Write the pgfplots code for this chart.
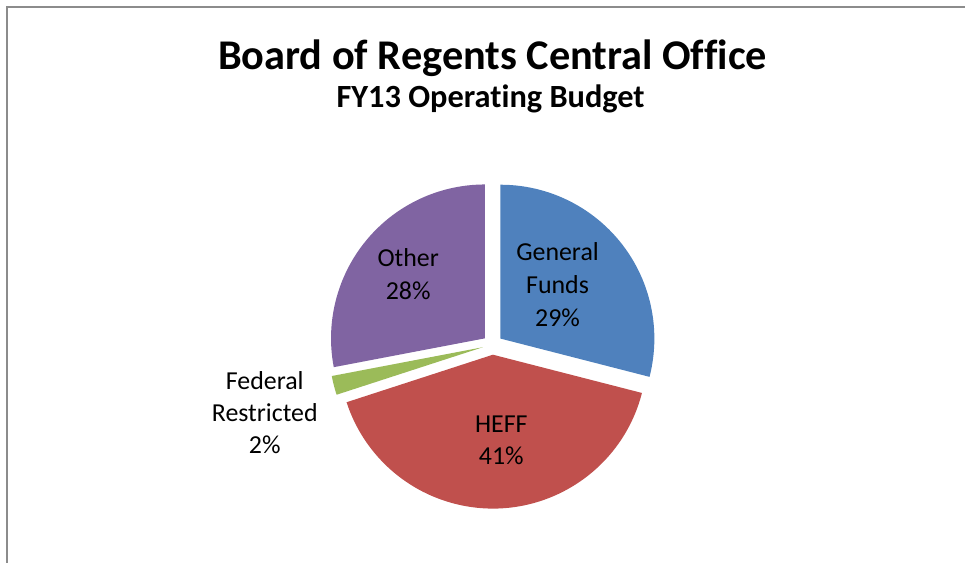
\documentclass[border=0pt]{standalone}
\usepackage{pgfplots}
\pgfplotsset{compat=1.18}
\usepackage{pgfplotstable}
\usepackage{fontspec}
\setmainfont[Ligatures=NoCommon]{Carlito}
\usetikzlibrary{calc}

\definecolor{gfblue}{HTML}{4F81BD}
\definecolor{heffred}{HTML}{C0504D}
\definecolor{fedgreen}{HTML}{9BBB59}
\definecolor{othpurple}{HTML}{8064A2}
\definecolor{bordergray}{HTML}{8C8C8C}

\pgfplotstableread{
name value
GeneralFunds 29
HEFF 41
FederalRestricted 2
Other 28
}\piedata

\pgfplotstablegetelem{0}{value}\of\piedata \pgfmathsetmacro\vA{\pgfplotsretval}%
\pgfplotstablegetelem{1}{value}\of\piedata \pgfmathsetmacro\vB{\pgfplotsretval}%
\pgfplotstablegetelem{2}{value}\of\piedata \pgfmathsetmacro\vC{\pgfplotsretval}%
\pgfplotstablegetelem{3}{value}\of\piedata \pgfmathsetmacro\vD{\pgfplotsretval}%
\pgfmathsetmacro\tot{\vA+\vB+\vC+\vD}%
\pgfmathsetmacro\aA{90}%
\pgfmathsetmacro\aB{\aA-360*\vA/\tot}%
\pgfmathsetmacro\aC{\aB-360*\vB/\tot}%
\pgfmathsetmacro\aD{\aC-360*\vC/\tot}%
\pgfmathsetmacro\aE{\aD-360*\vD/\tot}%
\pgfmathsetmacro\mA{(\aA+\aB)/2}%
\pgfmathsetmacro\mB{(\aB+\aC)/2}%
\pgfmathsetmacro\mC{(\aC+\aD)/2}%
\pgfmathsetmacro\mD{(\aD+\aE)/2}%
\tikzset{lbl/.style={font=\fontsize{26}{31}\selectfont, text=black, inner sep=0pt, anchor=base}}

\begin{document}%
\begin{tikzpicture}
\begin{axis}[
  width=966bp, height=563bp, scale only axis,
  xmin=0, xmax=966, ymin=0, ymax=563,
  axis lines=none, clip=false,
]
\path (axis cs:0,0) rectangle (axis cs:966,563);
% border
\draw[bordergray, line width=1.6bp] (axis cs:7,0) -- (axis cs:7,556) -- (axis cs:966,556);
% slices
\def\R{154bp}
\def\E{10bp}
\fill[gfblue] ($(axis cs:493,218)+(\mA:\E)$) -- ++(\aA:\R) arc[start angle=\aA, end angle=\aB, radius=\R] -- cycle;
\fill[heffred] ($(axis cs:493,218)+(\mB:\E)$) -- ++(\aB:\R) arc[start angle=\aB, end angle=\aC, radius=\R] -- cycle;
\fill[fedgreen] ($(axis cs:493,218)+(\mC:\E)$) -- ++(\aC:\R) arc[start angle=\aC, end angle=\aD, radius=\R] -- cycle;
\fill[othpurple] ($(axis cs:493,218)+(\mD:\E)$) -- ++(\aD:\R) arc[start angle=\aD, end angle=\aE, radius=\R] -- cycle;
% titles
\node[anchor=base, inner sep=0pt, font=\fontsize{42.5}{50}\selectfont\bfseries] at (axis cs:493,493) {Board of Regents Central Office};
\node[anchor=base, inner sep=0pt, font=\fontsize{32.5}{39}\selectfont\bfseries] at (axis cs:491,455) {FY13 Operating Budget};
% labels
\node[lbl] at (axis cs:558,302.3) {General};
\node[lbl] at (axis cs:558,269.5) {Funds};
\node[lbl] at (axis cs:558,236.5) {29\%};
\node[lbl] at (axis cs:408.5,296.3) {Other};
\node[lbl] at (axis cs:408.5,263) {28\%};
\node[lbl] at (axis cs:501.7,130) {HEFF};
\node[lbl] at (axis cs:501.7,98) {41\%};
\node[lbl] at (axis cs:265,173) {Federal};
\node[lbl] at (axis cs:265,141) {Restricted};
\node[lbl] at (axis cs:265,109) {2\%};
\end{axis}
\end{tikzpicture}%
\end{document}
